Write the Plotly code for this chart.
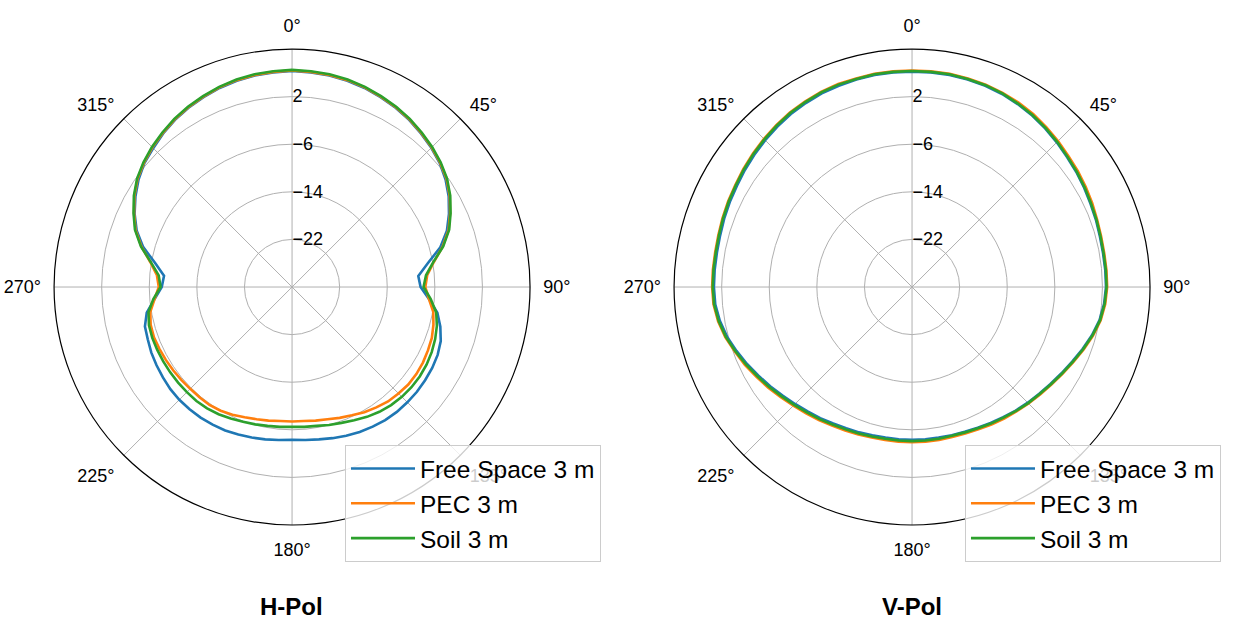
import plotly.graph_objects as go

# Azimuth angles of the pattern samples (degrees, clockwise from north)
theta_deg = list(range(0, 360, 5))

# Horizontal polarisation gain (dB)
h_free_space = [
    6.3, 6.2, 6.1, 5.9, 5.6, 5.2, 4.8, 4.3, 3.7, 3.1, 2.4, 1.5, 0.4, -0.9, -2.3, -4.2,
    -6.8, -8.7, -8.4, -6.9, -5.2, -4.2, -3.4, -3.0, -2.8, -2.7, -2.6, -2.6, -2.6, -2.7,
    -2.9, -3.1, -3.4, -3.7, -4.0, -4.2, -4.3,
    -4.2, -4.0, -3.8, -3.6, -3.4, -3.3, -3.2, -3.2, -3.2, -3.3, -3.5, -3.7, -3.9, -4.2,
    -4.4, -5.2, -6.8, -8.1, -8.4, -6.6, -4.1, -2.2, -0.8, 0.4, 1.5, 2.4, 3.0, 3.7, 4.3,
    4.8, 5.2, 5.6, 5.9, 6.1, 6.2,
]
h_pec = [
    6.4, 6.3, 6.2, 6.0, 5.7, 5.3, 4.9, 4.4, 3.8, 3.2, 2.5, 1.7, 0.6, -0.7, -2.0, -3.8,
    -5.8, -7.2, -7.6, -6.9, -5.9, -5.4, -5.0, -4.8, -4.6, -4.5, -4.5, -4.7, -4.9, -5.3,
    -5.7, -6.2, -6.6, -7.0, -7.2, -7.4, -7.4,
    -7.4, -7.2, -7.0, -6.7, -6.3, -6.0, -5.8, -5.8, -5.8, -5.7, -5.6, -5.5, -5.4, -5.3,
    -5.4, -5.8, -6.8, -7.6, -7.2, -5.8, -3.8, -2.0, -0.7, 0.6, 1.7, 2.5, 3.2, 3.8, 4.4,
    4.9, 5.3, 5.7, 6.0, 6.2, 6.3,
]
h_soil = [
    6.5, 6.4, 6.3, 6.1, 5.8, 5.4, 5.0, 4.5, 3.9, 3.3, 2.6, 1.8, 0.7, -0.6, -1.9, -3.7,
    -5.9, -7.4, -7.9, -6.6, -5.4, -4.8, -4.4, -4.1, -3.9, -3.8, -3.8, -3.9, -4.1, -4.4,
    -4.8, -5.3, -5.7, -6.0, -6.3, -6.4, -6.5,
    -6.4, -6.3, -6.1, -5.9, -5.6, -5.3, -5.1, -5.0, -5.0, -5.0, -5.0, -5.0, -5.0, -5.0,
    -5.1, -5.5, -6.6, -7.9, -7.5, -5.9, -3.7, -1.9, -0.6, 0.7, 1.8, 2.6, 3.3, 3.9, 4.5,
    5.0, 5.4, 5.8, 6.1, 6.3, 6.4,
]

# Vertical polarisation gain (dB)
v_free_space = [
    6.2, 6.2, 6.2, 6.1, 6.0, 5.8, 5.5, 5.2, 4.8, 4.4, 4.0, 3.7, 3.4, 3.1, 2.9, 2.7,
    2.6, 2.6, 2.6, 2.4, 2.0, 1.3, 0.5, -0.3, -1.0, -1.6, -2.1, -2.5, -2.9, -3.3,
    -3.6, -3.9, -4.1, -4.2, -4.3, -4.3, -4.3,
    -4.3, -4.3, -4.2, -4.0, -3.8, -3.5, -3.1, -2.7, -2.2, -1.6, -0.9, -0.2, 0.6, 1.4,
    2.2, 2.8, 3.2, 3.3, 3.3, 3.3, 3.4, 3.6, 3.8, 4.0, 4.3, 4.6, 4.9, 5.2, 5.5,
    5.7, 5.9, 6.0, 6.1, 6.2, 6.2,
]
v_pec = [
    6.4, 6.4, 6.4, 6.3, 6.2, 6.0, 5.8, 5.5, 5.1, 4.7, 4.3, 4.0, 3.7, 3.4, 3.1, 2.9,
    2.8, 2.8, 2.8, 2.6, 2.2, 1.5, 0.7, -0.1, -0.8, -1.4, -1.9, -2.3, -2.7, -3.0,
    -3.3, -3.6, -3.8, -3.9, -3.9, -3.9, -3.9,
    -3.9, -3.9, -3.8, -3.6, -3.4, -3.1, -2.7, -2.3, -1.8, -1.2, -0.5, 0.2, 1.0, 1.7,
    2.5, 3.1, 3.5, 3.6, 3.6, 3.6, 3.7, 3.9, 4.1, 4.3, 4.6, 4.9, 5.2, 5.5, 5.8,
    6.0, 6.2, 6.3, 6.3, 6.4, 6.4,
]
v_soil = [
    6.3, 6.3, 6.3, 6.2, 6.1, 5.9, 5.6, 5.3, 4.9, 4.5, 4.1, 3.8, 3.5, 3.2, 3.0, 2.8,
    2.7, 2.7, 2.7, 2.5, 2.1, 1.4, 0.6, -0.2, -0.9, -1.5, -2.0, -2.4, -2.8, -3.2,
    -3.5, -3.8, -4.0, -4.1, -4.1, -4.1, -4.1,
    -4.1, -4.1, -4.0, -3.8, -3.6, -3.3, -2.9, -2.5, -2.0, -1.4, -0.7, 0.0, 0.8, 1.6,
    2.4, 3.0, 3.4, 3.5, 3.5, 3.5, 3.6, 3.8, 4.0, 4.2, 4.5, 4.8, 5.1, 5.4, 5.7,
    5.9, 6.1, 6.2, 6.2, 6.3, 6.3,
]

series_names = ["Free Space 3 m", "PEC 3 m", "Soil 3 m"]
series_colors = ["#1f77b4", "#ff7f0e", "#2ca02c"]
panel_titles = ["H-Pol", "V-Pol"]

r_range = [-30, 10]
r_ticks = [-22, -14, -6, 2]
angle_ticks = list(range(0, 360, 45))
angle_labels = [f"{a}°" for a in angle_ticks]

FONT = "Liberation Sans, Arial, Helvetica, sans-serif"
GRID = "#b0b0b0"


def closed(values):
    return list(values) + [values[0]]


fig = go.Figure()

panels = [
    ("polar", "legend", [h_free_space, h_pec, h_soil]),
    ("polar2", "legend2", [v_free_space, v_pec, v_soil]),
]
for subplot, legend_id, data in panels:
    for name, color, values in zip(series_names, series_colors, data):
        fig.add_trace(go.Scatterpolar(
            r=closed(values),
            theta=closed(theta_deg),
            mode="lines",
            name=name,
            line=dict(color=color, width=2.6),
            subplot=subplot,
            legend=legend_id,
        ))


def polar_layout(x0, x1):
    return dict(
        domain=dict(x=[x0, x1], y=[0.1573, 0.9213]),
        bgcolor="white",
        angularaxis=dict(
            rotation=90,
            direction="clockwise",
            tickmode="array",
            tickvals=angle_ticks,
            ticktext=angle_labels,
            showline=True,
            linecolor="black",
            linewidth=1.2,
            showgrid=True,
            gridcolor=GRID,
            gridwidth=1,
            ticks="outside",
            ticklen=9,
            tickcolor="rgba(0,0,0,0)",
            tickfont=dict(size=18, color="black", family=FONT),
        ),
        radialaxis=dict(
            range=r_range,
            tickmode="array",
            tickvals=r_ticks,
            angle=90,
            tickangle=90,
            side="clockwise",
            showline=False,
            ticks="",
            showgrid=True,
            gridcolor=GRID,
            gridwidth=1,
            tickfont=dict(size=18, color="black", family=FONT),
        ),
    )


legend_style = dict(
    bgcolor="rgba(255,255,255,0.8)",
    bordercolor="#cccccc",
    borderwidth=1,
    font=dict(size=24.5, color="black", family=FONT),
    xanchor="left",
    yanchor="top",
    y=0.2857,
    itemwidth=64,
)

fig.update_layout(
    width=1237,
    height=623,
    autosize=False,
    margin=dict(l=0, r=0, t=0, b=0),
    paper_bgcolor="white",
    font=dict(family=FONT, color="black"),
    polar=polar_layout(0.0437, 0.4285),
    polar2=polar_layout(0.5449, 0.9297),
    legend=dict(x=0.2789, **legend_style),
    legend2=dict(x=0.7801, **legend_style),
    annotations=[
        dict(text=f"<b>{panel_titles[0]}</b>", x=0.2353, y=0.026, xref="paper", yref="paper",
             xanchor="center", yanchor="middle", showarrow=False,
             font=dict(size=24, color="black", family=FONT)),
        dict(text=f"<b>{panel_titles[1]}</b>", x=0.7369, y=0.026, xref="paper", yref="paper",
             xanchor="center", yanchor="middle", showarrow=False,
             font=dict(size=24, color="black", family=FONT)),
    ],
)

fig.write_html("out.html")
